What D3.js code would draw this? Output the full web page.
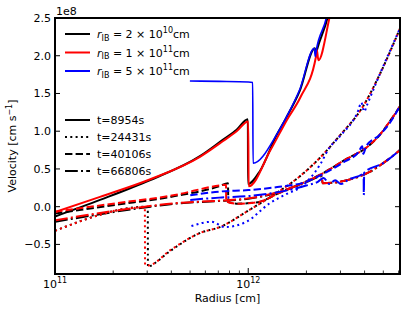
<!DOCTYPE html>
<html lang="en">
<head>
  <meta charset="UTF-8">
  <script src="https://d3js.org/d3.v7.min.js"></script>
  <style>
    body { margin: 0; background: #fff; font-family: "DejaVu Sans", sans-serif; }
    text { font-family: "DejaVu Sans", sans-serif; fill: #000; }
  </style>
</head>
<body>
<div id="chart"></div>
<script>
// [log10(radius/cm), velocity / 1e8 cm s^-1]
const black_t1 = [[11.0,-0.13],[11.233,0.09],[11.49,0.35],[11.75,0.67],[11.87,0.89],[11.94,1.02],[11.998,1.16],[11.999,0.30],[12.06,0.47],[12.147,0.95],[12.195,1.17],[12.266,1.53],[12.345,2.1],[12.35,2.02],[12.356,2.08],[12.41,2.5],[12.45,3.0]];
const red_t1 = [[11.0,-0.07],[11.233,0.13],[11.49,0.36],[11.75,0.66],[11.87,0.87],[11.94,1.0],[12.0,1.13],[12.002,0.27],[12.115,0.75],[12.2,1.15],[12.27,1.45],[12.35,1.98],[12.355,2.08],[12.363,1.94],[12.42,2.5],[12.46,3.0]];
const blue_t1 = [[11.698,1.665],[11.85,1.66],[12.0,1.652],[12.023,1.645],[12.025,0.575],[12.147,0.955],[12.2,1.2],[12.266,1.55],[12.342,2.1],[12.347,1.99],[12.352,2.07],[12.404,2.5],[12.44,3.0]];

const black_t2 = [[11.0,-0.32],[11.48,0.0],[11.481,-0.8],[11.49,-0.79],[11.6,-0.58],[11.749,-0.35],[11.853,-0.27],[12.008,-0.04],[12.146,0.18],[12.266,0.40],[12.37,0.645],[12.473,0.94],[12.592,1.32],[12.68,1.75],[12.785,2.36]];
const red_t2 = [[11.0,-0.32],[11.465,-0.01],[11.466,-0.77],[11.48,-0.78],[11.6,-0.57],[11.749,-0.35],[11.853,-0.27],[12.008,-0.04],[12.146,0.18],[12.266,0.40],[12.37,0.645],[12.473,0.94],[12.592,1.32],[12.68,1.75],[12.785,2.36]];
const blue_t2 = [[11.706,-0.257],[11.81,-0.2],[11.879,-0.27],[11.99,-0.2],[12.111,0.045],[12.2,0.17],[12.275,0.265],[12.37,0.55],[12.42,0.78],[12.473,0.93],[12.57,1.28],[12.585,1.38],[12.6,1.26],[12.615,1.35],[12.68,1.75],[12.785,2.36]];

const black_t3 = [[11.0,-0.09],[11.3,0.02],[11.62,0.14],[11.85,0.27],[11.895,0.31],[11.897,0.06],[11.94,0.04],[12.05,0.06],[12.15,0.17],[12.27,0.3],[12.37,0.42],[12.5,0.62],[12.62,0.8],[12.68,0.95],[12.73,1.12],[12.785,1.33]];
const red_t3 = [[11.0,-0.066],[11.3,0.04],[11.62,0.155],[11.85,0.28],[11.885,0.29],[11.886,0.07],[11.94,0.04],[12.05,0.06],[12.15,0.17],[12.27,0.3],[12.37,0.42],[12.5,0.62],[12.62,0.8],[12.68,0.95],[12.73,1.12],[12.785,1.33]];
const blue_t3 = [[11.7,0.15],[11.85,0.2],[12.0,0.22],[12.15,0.26],[12.3,0.33],[12.4,0.45],[12.5,0.6],[12.57,0.72],[12.59,0.8],[12.595,0.7],[12.61,0.8],[12.68,0.95],[12.73,1.1],[12.785,1.33]];

const black_t4 = [[11.0,-0.2],[11.465,-0.01],[11.62,0.04],[11.85,0.075],[12.0,0.105],[12.15,0.185],[12.3,0.325],[12.38,0.40],[12.385,0.31],[12.51,0.35],[12.628,0.46],[12.7,0.58],[12.785,0.75]];
const red_t4 = [[11.0,-0.18],[11.465,0.0],[11.62,0.045],[11.85,0.08],[12.0,0.11],[12.15,0.19],[12.3,0.33],[12.38,0.41],[12.385,0.31],[12.51,0.35],[12.628,0.46],[12.7,0.58],[12.785,0.75]];
const blue_t4 = [[11.7,0.09],[11.85,0.12],[12.0,0.14],[12.15,0.19],[12.3,0.28],[12.36,0.33],[12.39,0.38],[12.42,0.3],[12.45,0.35],[12.48,0.3],[12.52,0.36],[12.594,0.44],[12.597,0.45],[12.598,0.155],[12.6,0.45],[12.7,0.58],[12.785,0.75]];

const yTicks = [-0.5, 0.0, 0.5, 1.0, 1.5, 2.0, 2.5];
const radiusMant = ["2", "1", "5"];
const radiusExp = ["10", "11", "11"];
const timeLabels = ["t=8954s", "t=24431s", "t=40106s", "t=66806s"];

const colors = ["#000000", "#ff0000", "#0000ff"];
const dashes = [null, "2,3.3", "7.4,3.2", "12.8,3.2,2,3.2"];

const series = [
  [black_t1, black_t2, black_t3, black_t4],
  [red_t1, red_t2, red_t3, red_t4],
  [blue_t1, blue_t2, blue_t3, blue_t4]
];

const W = 407, H = 312;
const m = { left: 55, right: 400, top: 18, bottom: 274 };

const svg = d3.select('#chart').append('svg')
  .attr('width', W).attr('height', H);

const x = d3.scaleLog().domain([1e11, 6.1e12]).range([m.left, m.right]);
const y = d3.scaleLinear().domain([-0.892, 2.5]).range([m.bottom, m.top]);

svg.append('clipPath').attr('id', 'clip')
  .append('rect').attr('x', m.left).attr('y', m.top)
  .attr('width', m.right - m.left).attr('height', m.bottom - m.top);

const line = d3.line()
  .x(d => x(Math.pow(10, d[0])))
  .y(d => y(d[1]))
  .curve(d3.curveMonotoneX);

const plot = svg.append('g').attr('clip-path', 'url(#clip)');
series.forEach((group, ci) => {
  group.forEach((data, ti) => {
    plot.append('path')
      .attr('d', line(data))
      .attr('fill', 'none')
      .attr('stroke', colors[ci])
      .attr('stroke-width', ci === 2 && ti === 0 ? 1.6 : 2)
      .attr('stroke-dasharray', dashes[ti])
      .attr('stroke-linejoin', 'round');
  });
});

// axes: ticks point inward
const xMajor = [1e11, 1e12];
const xMinor = [];
[1e11, 1e12].forEach(b => { for (let k = 2; k <= 9; k++) if (b * k < 6.1e12) xMinor.push(b * k); });

const axB = svg.append('g');
xMajor.forEach(v => {
  axB.append('line').attr('x1', x(v)).attr('x2', x(v))
    .attr('y1', m.bottom).attr('y2', m.bottom - 6).attr('stroke', '#000').attr('stroke-width', 1);
  const t = axB.append('text').attr('x', x(v)).attr('y', m.bottom + 14)
    .attr('text-anchor', 'middle').style('font-size', '11px');
  t.append('tspan').text('10');
  t.append('tspan').attr('dy', -5).style('font-size', '8px').text(Math.round(Math.log10(v)));
});
xMinor.forEach(v => {
  axB.append('line').attr('x1', x(v)).attr('x2', x(v))
    .attr('y1', m.bottom).attr('y2', m.bottom - 3.5).attr('stroke', '#000').attr('stroke-width', 0.8);
});

const axL = svg.append('g');
yTicks.forEach(v => {
  axL.append('line').attr('x1', m.left).attr('x2', m.left + 5)
    .attr('y1', y(v)).attr('y2', y(v)).attr('stroke', '#000').attr('stroke-width', 1);
  axL.append('line').attr('x1', m.right).attr('x2', m.right - 5)
    .attr('y1', y(v)).attr('y2', y(v)).attr('stroke', '#000').attr('stroke-width', 1);
  axL.append('text').attr('x', m.left - 4).attr('y', y(v) + 4)
    .attr('text-anchor', 'end').style('font-size', '11px')
    .text(v < 0 ? '\u2212' + Math.abs(v).toFixed(1) : v.toFixed(1));
});

svg.append('rect').attr('x', m.left).attr('y', m.top)
  .attr('width', m.right - m.left).attr('height', m.bottom - m.top)
  .attr('fill', 'none').attr('stroke', '#000').attr('stroke-width', 2);

svg.append('text').attr('x', m.left + 1).attr('y', 15).style('font-size', '11px').text('1e8');

svg.append('text').attr('x', (m.left + m.right) / 2).attr('y', 302)
  .attr('text-anchor', 'middle').style('font-size', '11px').text('Radius [cm]');

const yl = svg.append('text')
  .attr('transform', `translate(16,${(m.top + m.bottom) / 2}) rotate(-90)`)
  .attr('text-anchor', 'middle').style('font-size', '11px');
yl.append('tspan').text('Velocity [cm s');
yl.append('tspan').attr('dy', -4).style('font-size', '8px').text('\u22121');
yl.append('tspan').attr('dy', 4).text(']');

// legend 1: inner boundary radius
const lg = svg.append('g');
radiusMant.forEach((mant, i) => {
  const yy = 34 + i * 18.5;
  lg.append('line').attr('x1', 65).attr('x2', 90).attr('y1', yy).attr('y2', yy)
    .attr('stroke', colors[i]).attr('stroke-width', 2);
  const t = lg.append('text').attr('x', 97).attr('y', yy + 4).style('font-size', '11px');
  t.append('tspan').style('font-style', 'italic').text('r');
  t.append('tspan').attr('dy', 2.5).style('font-size', '8px').text('IB');
  t.append('tspan').attr('dy', -2.5).text(' = ' + mant + ' \u00d7 10');
  t.append('tspan').attr('dy', -5).style('font-size', '8px').text(radiusExp[i]);
  t.append('tspan').attr('dy', 5).text('cm');
});

// legend 2: time
timeLabels.forEach((lab, i) => {
  const yy = 120 + i * 17;
  lg.append('line').attr('x1', 65).attr('x2', 90).attr('y1', yy).attr('y2', yy)
    .attr('stroke', '#000').attr('stroke-width', 2)
    .attr('stroke-dasharray', dashes[i]);
  lg.append('text').attr('x', 97).attr('y', yy + 4).style('font-size', '11px').text(lab);
});
</script>
</body>
</html>
